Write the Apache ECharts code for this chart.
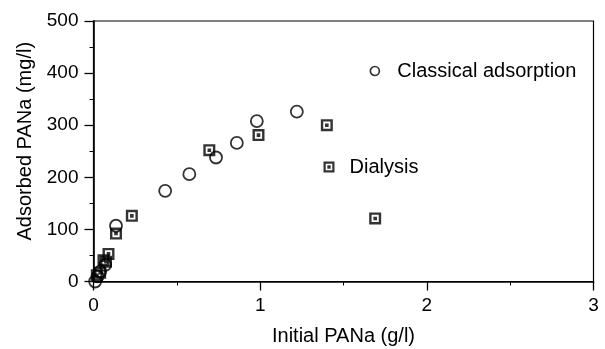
<!DOCTYPE html>
<html><head><meta charset="utf-8">
<script src="https://cdn.jsdelivr.net/npm/echarts@6/dist/echarts.min.js"></script>
<style>html,body{margin:0;padding:0;background:#fff}#c{width:605px;height:349px}</style>
</head><body><div id="c"></div>
<script>
const classicalX = [0.01, 0.025, 0.04, 0.07, 0.135, 0.43, 0.575, 0.735, 0.86, 0.98, 1.22];
const classicalY = [0, 10, 19, 32, 107, 174, 206, 238, 266, 308, 326];
const dialysisX = [0.02, 0.04, 0.06, 0.075, 0.09, 0.135, 0.23, 0.695, 0.99, 1.4, 1.69];
const dialysisY = [12, 17, 41, 38, 53, 92, 126, 252, 281, 300, 121];
const seriesNames = ['Classical adsorption', 'Dialysis'];
const xAxisTitle = 'Initial PANa (g/l)';
const yAxisTitle = 'Adsorbed PANa (mg/l)';
const xRange = [0, 3, 1];
const yRange = [0, 500, 100];

const FONT = "'Liberation Sans', Arial, sans-serif";
const squarePath = 'path://M0,0H10V10H0Z M2,2V8H8V2Z M3.5,3.5H6.5V6.5H3.5Z';

function pairs(xs, ys) { return xs.map((x, i) => [x, ys[i]]); }

const chart = echarts.init(document.getElementById('c'), null, {renderer: 'canvas'});
const axisCommon = {
  type: 'value',
  nameLocation: 'middle',
  nameTextStyle: {fontSize: 20, color: '#000', fontFamily: FONT},
  axisLine: {show: true, onZero: false, lineStyle: {color: '#000', width: 1.6}},
  axisTick: {show: true, inside: false, length: 9, lineStyle: {color: '#000', width: 1.3}},
  minorTick: {show: true, splitNumber: 2, length: 4, lineStyle: {color: '#000', width: 1}},
  axisLabel: {fontSize: 19, color: '#000', fontFamily: FONT, margin: 15},
  splitLine: {show: false},
  minorSplitLine: {show: false}
};
chart.setOption({
  animation: false,
  backgroundColor: '#fff',
  textStyle: {fontFamily: FONT},
  grid: {left: 93.5, right: 11.5, top: 21, bottom: 67.5, show: true, borderColor: '#000', borderWidth: 1.2,
         backgroundColor: 'transparent', containLabel: false, outerBoundsMode: 'none'},
  xAxis: Object.assign({}, axisCommon, {
    min: xRange[0], max: xRange[1], interval: xRange[2],
    name: xAxisTitle, nameGap: 45
  }),
  yAxis: Object.assign({}, axisCommon, {
    min: yRange[0], max: yRange[1], interval: yRange[2],
    name: yAxisTitle, nameGap: 57,
    nameTextStyle: {fontSize: 20, color: '#000', fontFamily: FONT, padding: [0, 0, 0, 20]}
  }),
  legend: [
    {
      data: [{name: seriesNames[0], icon: 'circle',
              itemStyle: {color: 'transparent', borderColor: '#000', borderWidth: 1.7}}],
      left: 369.5, top: 61, itemWidth: 9, itemHeight: 9, padding: 0, selectedMode: false,
      textStyle: {fontSize: 20, color: '#000', fontFamily: FONT, padding: [0, 0, 0, 13]}
    },
    {
      data: [{name: seriesNames[1], icon: squarePath,
              itemStyle: {color: '#000', borderWidth: 0}}],
      left: 323.5, top: 157, itemWidth: 11, itemHeight: 11, padding: 0, selectedMode: false,
      textStyle: {fontSize: 20, color: '#000', fontFamily: FONT, padding: [0, 0, 0, 10]}
    }
  ],
  series: [
    {
      name: seriesNames[0], type: 'scatter', symbol: 'circle', symbolSize: 12,
      itemStyle: {color: 'transparent', borderColor: '#000', borderWidth: 1.8},
      data: pairs(classicalX, classicalY)
    },
    {
      name: seriesNames[1], type: 'scatter', symbol: squarePath, symbolSize: 12,
      itemStyle: {color: '#000', borderWidth: 0},
      data: pairs(dialysisX, dialysisY)
    }
  ]
});
</script>
</body></html>
